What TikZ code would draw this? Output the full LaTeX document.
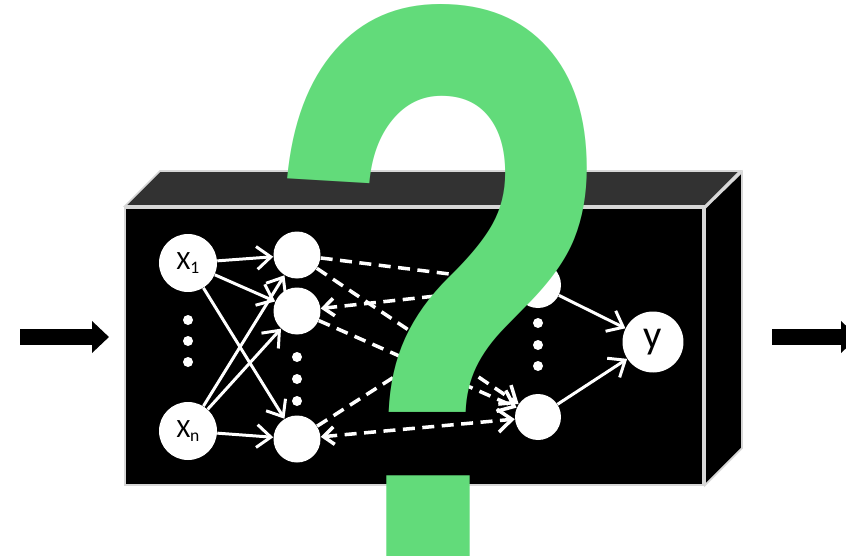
\documentclass[tikz,border=0pt]{standalone}
\usepackage{fontspec}
\usepackage{graphicx}
\usetikzlibrary{arrows.meta}
\newfontfamily\labelfont{Carlito}
\newfontfamily\markfont{Liberation Sans}
\definecolor{qgreen}{RGB}{98,219,122}
\definecolor{lidgray}{RGB}{50,50,50}
\definecolor{rimgray}{RGB}{215,215,215}
\newcommand{\lowidx}[1]{\raisebox{-0.3ex}{\fontsize{10}{10}\selectfont #1}}

\begin{document}
\begin{tikzpicture}[x=0.02cm,y=-0.02cm,
  unit/.style={circle,fill=white,inner sep=0pt,minimum size=0.94cm},
  inp/.style={circle,fill=white,inner sep=0pt,minimum size=1.16cm,font=\labelfont\fontsize{15}{15}\selectfont},
  link/.style={white,line width=1.7pt,-{Straight Barb[length=8pt,width=13pt]}},
  dlink/.style={link,line width=2pt,dash pattern=on 0.24cm off 0.15cm},
  backtip/.style={{Straight Barb[length=6pt,width=10pt]}-{Straight Barb[length=8pt,width=13pt]}},
  bigarrow/.style={line width=0.32cm,-{Triangle[length=0.34cm,width=0.62cm]}}]
\clip (0,0) rectangle (846,555);
\fill[white] (0,0) rectangle (846,555);
% the box
\filldraw[fill=lidgray,draw=rimgray,line width=1pt] (125,206) -- (160,171) -- (740,171) -- (705,206) -- cycle;
\filldraw[fill=black,draw=rimgray,line width=1pt] (705,208) -- (742,172) -- (742,448) -- (705,485) -- cycle;
\filldraw[fill=black,draw=rimgray,line width=1pt] (125,208) rectangle (703,485);
% layers
\node[inp] (x1) at (188,263) {X\lowidx{1}};
\node[inp] (xn) at (188,431) {X\lowidx{n}};
\node[unit] (h1) at (297,255) {};
\node[unit] (h2) at (297,311) {};
\node[unit] (hm) at (297,439) {};
\node[unit,minimum size=0.92cm] (g1) at (538,285) {};
\node[unit,minimum size=0.92cm] (gm) at (538,417) {};
\node[inp,minimum size=1.22cm,font=\labelfont\fontsize{23}{23}\selectfont] (y) at (653,342) {y};
\foreach \yy in {320,341,362} \fill[white] (188,\yy) circle (0.1cm);
\foreach \yy in {357,379,401} \fill[white] (297,\yy) circle (0.1cm);
\foreach \yy in {323,345,366} \fill[white] (538,\yy) circle (0.1cm);
\draw[link] (x1) -- (h1);
\draw[link] (x1) -- (h2);
\draw[link] (x1) -- (hm);
\draw[link] (xn) -- (h1);
\draw[link] (xn) -- (h2);
\draw[link] (xn) -- (hm);
\draw[dlink] (h1) -- (g1);
\draw[dlink] (h1) -- (gm);
\draw[dlink,backtip] (h2) -- (g1);
\draw[dlink] (h2) -- (gm);
\draw[dlink] (hm) -- (g1);
\draw[dlink,backtip] (hm) -- (gm);
\draw[link] (g1) -- (y);
\draw[link] (gm) -- (y);
% in and out
\coordinate (src) at (20,337);
\coordinate (srctip) at (109,337);
\coordinate (dst) at (772,337);
\coordinate (dsttip) at (858,337);
\draw[bigarrow] (src) -- (srctip);
\draw[bigarrow] (dst) -- (dsttip);
% question mark
\node[text=qgreen,inner sep=0pt] (qmark) at (441,295) {\resizebox{7.2cm}{11.6cm}{\markfont\bfseries ?}};
\end{tikzpicture}
\end{document}
